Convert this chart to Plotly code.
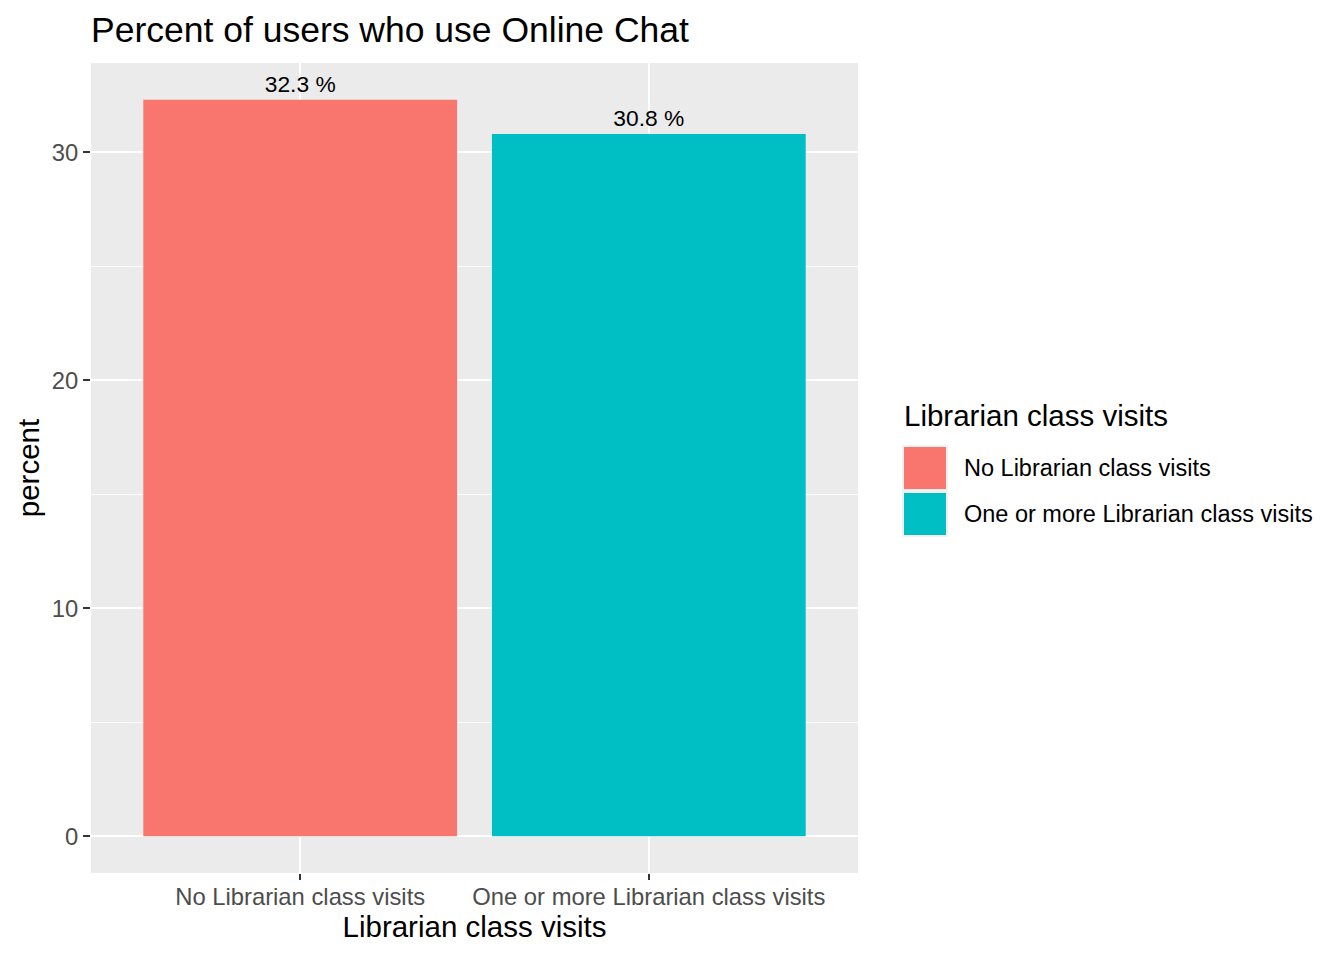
import plotly.graph_objects as go

# data
categories = ["No Librarian class visits", "One or more Librarian class visits"]
percents = [32.3, 30.8]
bar_colors = ["#F8766D", "#00BFC4"]
y_ticks = [0, 10, 20, 30]

W, H = 1344, 960
OFF = 8  # page body margin shifts the plot
# panel edges in screen pixels
PL, PR, PT, PB = 91, 858, 63, 873
FONT = "Liberation Sans, Arial, sans-serif"


def px_x(p):
    return (p - PL) / (PR - PL)


def px_y(p):
    return (PB - p) / (PB - PT)


fig = go.Figure()
fig.add_trace(
    go.Bar(x=categories,
           y=percents,
           marker_color=bar_colors,
           marker_line_width=0,
           width=0.9,
           text=[f"{v} %" for v in percents],
           textposition="outside",
           textfont=dict(size=22.8, color="black", family=FONT),
           cliponaxis=False,
           showlegend=False))

# expand like ggplot (5% of range)
ymax = max(percents)
pad = 0.05 * ymax

fig.update_layout(
    width=W,
    height=H,
    margin=dict(l=PL - OFF, r=W - PR + OFF, t=PT - OFF, b=H - PB + OFF),
    paper_bgcolor="white",
    plot_bgcolor="#EBEBEB",
    font=dict(family=FONT, color="black"),
    title=dict(text="Percent of users who use Online Chat",
               x=px_x(91), xref="paper", xanchor="left",
               y=1 - (30 - OFF) / H, yanchor="middle",
               font=dict(size=35.5, color="black")),
    bargap=0.1,
    xaxis=dict(range=[-0.6, 1.6],
               showgrid=True, gridcolor="white", gridwidth=2,
               ticks="outside", ticklen=6, tickwidth=2, tickcolor="#333333",
               ticklabelstandoff=-4,
               tickfont=dict(size=23.8, color="#4D4D4D"),
               zeroline=False,
               title=dict(text="Librarian class visits",
                          font=dict(size=29.5, color="black"),
                          standoff=4)),
    yaxis=dict(range=[-pad, ymax + pad],
               tickvals=y_ticks,
               showgrid=True, gridcolor="white", gridwidth=2,
               minor=dict(dtick=5, showgrid=True, gridcolor="white",
                          gridwidth=1),
               ticks="outside", ticklen=7, tickwidth=2, tickcolor="#333333",
               tickfont=dict(size=23.8, color="#4D4D4D"),
               zeroline=False,
               title=dict(text="percent",
                          font=dict(size=29.5, color="black"),
                          standoff=3)),
)

# legend drawn by hand to get ggplot-sized keys
fig.add_annotation(text="Librarian class visits", xref="paper", yref="paper",
                   x=px_x(902), y=px_y(415), xanchor="left", yanchor="middle",
                   showarrow=False, font=dict(size=29.5, color="black"))
key_top = 445
key_size = 44
for i, (cat, col) in enumerate(zip(categories, bar_colors)):
    top = key_top + i * (key_size + 2)
    fig.add_shape(type="rect", xref="paper", yref="paper",
                  x0=px_x(902), x1=px_x(902 + key_size + 2),
                  y0=px_y(top), y1=px_y(top + key_size + 2),
                  fillcolor="#F2F2F2", line_width=0, layer="below")
    fig.add_shape(type="rect", xref="paper", yref="paper",
                  x0=px_x(904), x1=px_x(904 + key_size - 2),
                  y0=px_y(top + 2), y1=px_y(top + key_size),
                  fillcolor=col, line_width=0)
    fig.add_annotation(text=cat, xref="paper", yref="paper",
                       x=px_x(962), y=px_y(top + (key_size + 2) / 2),
                       xanchor="left", yanchor="middle", showarrow=False,
                       font=dict(size=23.5, color="black"))

fig.write_html("out.html")
